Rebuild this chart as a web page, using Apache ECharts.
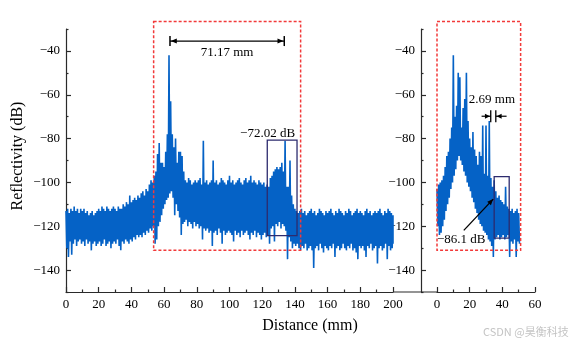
<!DOCTYPE html>
<html><head><meta charset="utf-8">
<script src="https://cdn.jsdelivr.net/npm/echarts@6/dist/echarts.min.js"></script>
<style>html,body{margin:0;padding:0;background:#fff}#c{width:570px;height:344px}</style>
</head><body><div id="c"></div>
<script>
// ---- data (dB), one value per mm ----
const leftHi = [
 -113,-112,-114,-112,-113,-111,-113,-112,-114,-112,
 -113,-112,-114,-113,-115,-114,-113,-115,-114,-113,
 -112,-113,-111,-112,-113,-111,-112,-113,-112,-111,
 -112,-113,-111,-112,-112,-110,-111,-109,-110,-106,
 -109,-108,-107,-108,-106,-107,-105,-104,-106,-103,
 -104,-101,-99,-100,-97,-95,-87,-82,-91,-91,
 -93,-86,-78,-42,-63,-78,-84,-80,-91,-86,
 -86,-88,-95,-99,-100,-98,-99,-101,-100,-99,
 -100,-99,-98,-101,-81,-100,-99,-101,-100,-99,
 -90,-100,-99,-101,-100,-98,-99,-100,-101,-99,
 -97,-100,-99,-101,-100,-99,-98,-100,-101,-99,
 -98,-100,-99,-97,-100,-99,-100,-101,-99,-100,
 -101,-100,-102,-101,-102,-98,-97,-95,-94,-93,
 -94,-93,-91,-95,-81,-102,-102,-90,-106,-110,
 -112,-113,-114,-113,-112,-114,-113,-115,-114,-113,
 -112,-114,-113,-115,-114,-112,-113,-114,-115,-113,
 -114,-113,-112,-114,-115,-113,-114,-112,-113,-114,
 -115,-113,-114,-112,-113,-115,-114,-113,-112,-114,
 -113,-114,-115,-113,-112,-114,-113,-115,-114,-113,
 -114,-113,-112,-114,-115,-113,-114,-112,-113,-114,
 -115];
const leftLo = [
 -130,-134,-127,-133,-128,-126,-129,-127,-126,-128,
 -127,-129,-126,-128,-127,-131,-128,-127,-129,-128,
 -127,-129,-128,-126,-129,-128,-127,-130,-128,-127,
 -128,-126,-129,-131,-127,-128,-126,-127,-128,-126,
 -127,-125,-126,-124,-125,-124,-125,-123,-124,-122,
 -123,-121,-122,-120,-128,-126,-120,-118,-115,-112,
 -110,-108,-107,-105,-104,-107,-115,-110,-113,-116,
 -124,-119,-118,-117,-120,-118,-119,-121,-118,-120,
 -119,-121,-120,-126,-121,-122,-121,-123,-122,-129,
 -123,-122,-124,-121,-123,-128,-122,-124,-123,-122,
 -123,-124,-127,-122,-124,-123,-125,-122,-124,-123,
 -122,-124,-126,-123,-124,-122,-125,-123,-124,-126,
 -124,-123,-125,-124,-128,-121,-120,-127,-119,-120,
 -118,-121,-119,-120,-122,-135,-125,-127,-130,-128,
 -129,-128,-130,-131,-129,-130,-128,-131,-130,-129,
 -131,-139,-130,-129,-131,-128,-130,-132,-129,-130,
 -131,-129,-130,-128,-134,-130,-129,-131,-130,-128,
 -130,-131,-129,-130,-128,-131,-130,-132,-135,-129,
 -130,-129,-131,-134,-129,-130,-128,-131,-130,-129,
 -137,-130,-129,-131,-130,-128,-135,-129,-131,-130,
 -128];
const rightHi = [
 -103,-101,-100,-99,-97,-93,-88,-86,-80,-75,
 -42,-70,-65,-50,-52,-75,-66,-62,-50,-72,
 -80,-84,-77,-85,-88,-92,-86,-88,-74,-96,
 -74,-97,-72,-98,-102,-99,-104,-107,-106,-108,
 -109,-110,-102,-111,-112,-113,-112,-114,-113,-112,
 -114];
const rightLo = [
 -120,-124,-123,-120,-117,-113,-110,-107,-103,-100,
 -97,-94,-90,-88,-90,-92,-95,-97,-100,-102,
 -104,-107,-109,-112,-114,-117,-119,-120,-122,-123,
 -124,-126,-127,-129,-134,-126,-125,-124,-126,-125,
 -124,-126,-125,-124,-134,-127,-128,-126,-134,-127,
 -128];
const yMajor = [-140,-120,-100,-80,-60,-40];
const yMinor = [-150,-130,-110,-90,-70,-50,-30];

// annotations (data units)
const redBoxL = [53.6, -26.6, 143.5, -131.0];
const redBoxR = [0, -26.6, 51.2, -131.0];
const navyBoxL = [123.1, -80.7, 141.3, -124.3];
const navyBoxR = [35.0, -97.4, 44.2, -125.4];
const dimL = {x1: 63.6, x2: 133.5, y: -35.5, label: '71.17 mm', lx: 98.5, ly: -40.7};
const dimR = {b1: 32.9, b2: 36.0, a1: 27.3, a2: 42.6, y: -69.8, label: '2.69 mm', lx: 33.6, ly: -62.2};
const noteL = {text: '\u221272.02 dB', x: 140.1, y: -77.5};
const noteR = {text: '\u221286.1 dB', x: 0, y: -126.1, ax1: 16.4, ay1: -121.9, ax2: 34.4, ay2: -107.6};

const FONT = '"Liberation Serif", "Times New Roman", serif';
const AX = '#2a2a2a';
const BLUE = '#0562c6';

function zigzag(hi, lo, xmax) {
  const out = [];
  for (let i = 0; i < hi.length; i++) {
    out.push([i, hi[i]]);
    out.push([Math.min(i + 0.5, xmax), lo[i]]);
  }
  return out;
}
const fmt = v => v < 0 ? '\u2212' + Math.abs(v) : String(v);

function xAx(grid, max) {
  return {
    type: 'value', gridIndex: grid, min: 0, max: max, interval: 20,
    axisLine: {show: true, onZero: false, lineStyle: {color: AX, width: 1.2}},
    axisTick: {show: true, inside: true, length: 5, lineStyle: {color: AX, width: 1.2}},
    minorTick: {show: true, splitNumber: 2, length: 2.5, lineStyle: {color: AX, width: 1.2}},
    axisLabel: {show: true, margin: 6, color: '#000', fontFamily: FONT, fontSize: 13},
    splitLine: {show: false}, minorSplitLine: {show: false}
  };
}
function yAx(grid, major, offset) {
  return {
    type: 'value', gridIndex: grid, position: 'left', offset: offset, min: -150, max: -30,
    axisLine: {show: major, onZero: false, lineStyle: {color: AX, width: 1.2}},
    axisTick: {show: true, inside: true, length: major ? 5 : 2.5, customValues: major ? yMajor : yMinor,
               lineStyle: {color: AX, width: 1.2}},
    axisLabel: {show: major, customValues: yMajor, margin: 6, color: '#000', fontFamily: FONT, fontSize: 13, formatter: fmt},
    splitLine: {show: false}
  };
}

const chart = echarts.init(document.getElementById('c'), null, {renderer: 'canvas'});
chart.setOption({
  animation: false,
  backgroundColor: '#fff',
  grid: [
    {left: 66, top: 29, width: 327, height: 263},
    {left: 437, top: 29, width: 98, height: 263}
  ],
  xAxis: [xAx(0, 200), xAx(1, 60)],
  yAxis: [yAx(0, true, 0), yAx(0, false, 0), yAx(1, true, 16), yAx(1, false, 16)],
  series: [
    {type: 'line', xAxisIndex: 0, yAxisIndex: 0, data: zigzag(leftHi, leftLo, 200), showSymbol: false,
     lineStyle: {width: 1.6, color: BLUE, join: 'miter'}, itemStyle: {color: BLUE}, silent: true, clip: true},
    {type: 'line', xAxisIndex: 1, yAxisIndex: 2, data: zigzag(rightHi, rightLo, 50.5), showSymbol: false,
     lineStyle: {width: 1.6, color: BLUE, join: 'miter'}, itemStyle: {color: BLUE}, silent: true, clip: true}
  ]
});

const P0 = (x, y) => chart.convertToPixel({xAxisIndex: 0, yAxisIndex: 0}, [x, y]);
const P1 = (x, y) => chart.convertToPixel({xAxisIndex: 1, yAxisIndex: 2}, [x, y]);

function rect(P, b, stroke, dash, w) {
  const a = P(b[0], b[1]), c = P(b[2], b[3]);
  return {type: 'rect', shape: {x: a[0], y: a[1], width: c[0] - a[0], height: c[1] - a[1]},
    style: {fill: null, stroke: stroke, lineWidth: w, lineDash: dash}, z: 100};
}
function line(p, q, w, color) {
  return {type: 'line', shape: {x1: p[0], y1: p[1], x2: q[0], y2: q[1]}, style: {stroke: color || '#000', lineWidth: w || 1}, z: 101};
}
function head(tip, from, L, hw) {
  const dx = tip[0] - from[0], dy = tip[1] - from[1], d = Math.hypot(dx, dy);
  const ux = dx / d, uy = dy / d, nx = -uy, ny = ux;
  const bx = tip[0] - L * ux, by = tip[1] - L * uy;
  return {type: 'polygon', shape: {points: [tip, [bx + hw * nx, by + hw * ny], [bx - hw * nx, by - hw * ny]]},
    style: {fill: '#000'}, z: 102};
}
function text(p, s, align, size, color, family) {
  return {type: 'text', x: p[0], y: p[1], style: {text: s, align: align, verticalAlign: 'middle',
    fill: color || '#000', font: (size || 13) + 'px ' + (family || FONT)}, z: 103};
}

const g = [];
g.push(rect(P0, redBoxL, '#f23a3a', [3, 2], 1.5));
g.push(rect(P1, redBoxR, '#f23a3a', [3, 2], 1.5));
g.push(rect(P0, navyBoxL, '#2d2b6e', null, 1.3));
g.push(rect(P1, navyBoxR, '#2d2b6e', null, 1.3));

// 71.17 mm dimension
{
  const a = P0(dimL.x1, dimL.y), b = P0(dimL.x2, dimL.y);
  g.push(line(a, b, 1.2));
  g.push(line([a[0], a[1] - 5], [a[0], a[1] + 5], 1.5));
  g.push(line([b[0], b[1] - 5], [b[0], b[1] + 5], 1.5));
  g.push(head([a[0] + 0.8, a[1]], b, 6, 2.5));
  g.push(head([b[0] - 0.8, b[1]], a, 6, 2.5));
  g.push(text(P0(dimL.lx, dimL.ly), dimL.label, 'center'));
}
// 2.69 mm dimension
{
  const b1 = P1(dimR.b1, dimR.y), b2 = P1(dimR.b2, dimR.y);
  const a1 = P1(dimR.a1, dimR.y), a2 = P1(dimR.a2, dimR.y);
  g.push(line([b1[0], b1[1] - 6], [b1[0], b1[1] + 6], 1.3));
  g.push(line([b2[0], b2[1] - 6], [b2[0], b2[1] + 6], 1.3));
  g.push(line(a1, b1, 1.2));
  g.push(line(a2, b2, 1.2));
  g.push(head([b1[0] - 0.8, b1[1]], a1, 5, 2.5));
  g.push(head([b2[0] + 0.8, b2[1]], a2, 5, 2.5));
  g.push(text(P1(dimR.lx, dimR.ly), dimR.label, 'center'));
}
g.push(text(P0(noteL.x, noteL.y), noteL.text, 'right'));
g.push(text(P1(noteR.x, noteR.y), noteR.text, 'left'));
{
  const s = P1(noteR.ax1, noteR.ay1), e = P1(noteR.ax2, noteR.ay2);
  g.push(line(s, e, 1.3));
  g.push(head(e, s, 6, 2.5));
}
// bridge of the broken x axis
{
  const a = P0(200, -150), b = P1(0, -150);
  g.push(line(a, b, 1.2, AX));
}
// axis titles
g.push({type: 'text', x: 18, y: 156, rotation: Math.PI / 2,
  style: {text: 'Reflectivity (dB)', align: 'center', verticalAlign: 'middle', fill: '#000', font: '16px ' + FONT}, z: 103});
g.push(text([310, 326], 'Distance (mm)', 'center', 16));
g.push(text([483, 332], 'CSDN @昊衡科技', 'left', 11, '#c4c4c4', '"Noto Sans CJK SC", sans-serif'));

chart.setOption({graphic: {elements: g}});
</script>
</body></html>
